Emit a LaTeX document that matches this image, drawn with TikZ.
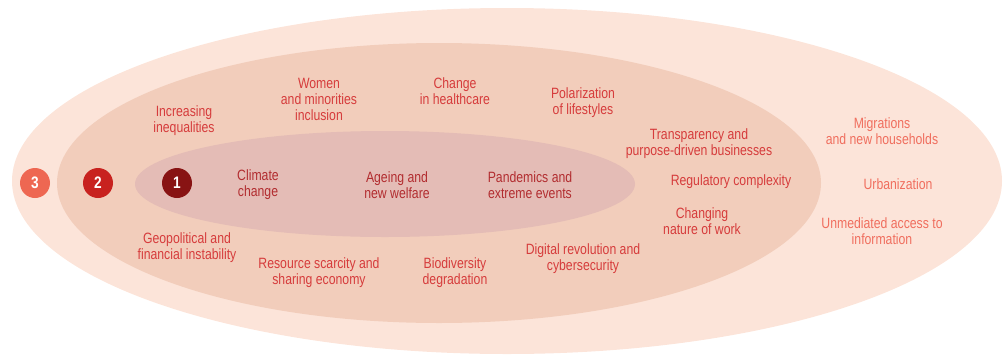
\documentclass[tikz,border=0pt]{standalone}
\usepackage{fontspec}
\setmainfont{Liberation Sans}[FakeStretch=0.82]
\usepackage{tikz}
\usepackage{xcolor}

\definecolor{ringout}{HTML}{FCE4D9}
\definecolor{ringmid}{HTML}{F2CDBB}
\definecolor{ringin}{HTML}{E4BCB6}
\definecolor{dotthree}{HTML}{EE6752}
\definecolor{dottwo}{HTML}{C8221F}
\definecolor{dotone}{HTML}{881313}
\definecolor{txtin}{HTML}{B22D30}
\definecolor{txtmid}{HTML}{D63C3C}
\definecolor{txtout}{HTML}{F06E5E}

\tikzset{
  trend/.style={align=center, font=\fontsize{11.2}{12}\selectfont, inner sep=0pt},
  intrend/.style={trend, text=txtin},
  midtrend/.style={trend, text=txtmid},
  outtrend/.style={trend, text=txtout},
  level/.style={circle, minimum size=22.5pt, inner sep=0pt, text=white,
    font=\fontsize{12.5}{13}\selectfont\bfseries}
}

\begin{document}
\begin{tikzpicture}[x=0.75pt,y=-0.75pt]
      \useasboundingbox (0,0) rectangle (1003,354);
      \fill[ringout] (507,181) ellipse [x radius=495, y radius=173];
      \fill[ringmid] (439,183) ellipse [x radius=382, y radius=140];
      \fill[ringin] (385,184) ellipse [x radius=250, y radius=53];
      \node[level, fill=dotthree] (three) at (35,183) {3};
      \node[level, fill=dottwo] (two) at (98,183) {2};
      \node[level, fill=dotone] (one) at (177,183) {1};
      % inner ring
      \node[intrend] (climate) at (258,185) {Climate\\change};
      \node[intrend] (ageing) at (397,185) {Ageing and\\new welfare};
      \node[intrend] (pandemics) at (530,185) {Pandemics and\\extreme events};
      % middle ring
      \node[midtrend] (inequal) at (184,121) {Increasing\\inequalities};
      \node[midtrend] (women) at (319,99) {Women\\and minorities\\inclusion};
      \node[midtrend] (health) at (455,91) {Change\\in healthcare};
      \node[midtrend] (polar) at (583,103) {Polarization\\of lifestyles};
      \node[midtrend] (transp) at (699,144) {Transparency and\\purpose-driven businesses};
      \node[midtrend] (regul) at (731,182) {Regulatory complexity};
      \node[midtrend] (work) at (702,221) {Changing\\nature of work};
      \node[midtrend] (digital) at (583,259) {Digital revolution and\\cybersecurity};
      \node[midtrend] (biodiv) at (455,273) {Biodiversity\\degradation};
      \node[midtrend] (resource) at (319,273) {Resource scarcity and\\sharing economy};
      \node[midtrend] (geopol) at (187,248) {Geopolitical and\\financial instability};
      % outer ring
      \node[outtrend] (migr) at (882,131) {Migrations\\and new households};
      \node[outtrend] (urban) at (898,184) {Urbanization};
      \node[outtrend] (unmed) at (882,231) {Unmediated access to\\information};
    \end{tikzpicture}
\end{document}
